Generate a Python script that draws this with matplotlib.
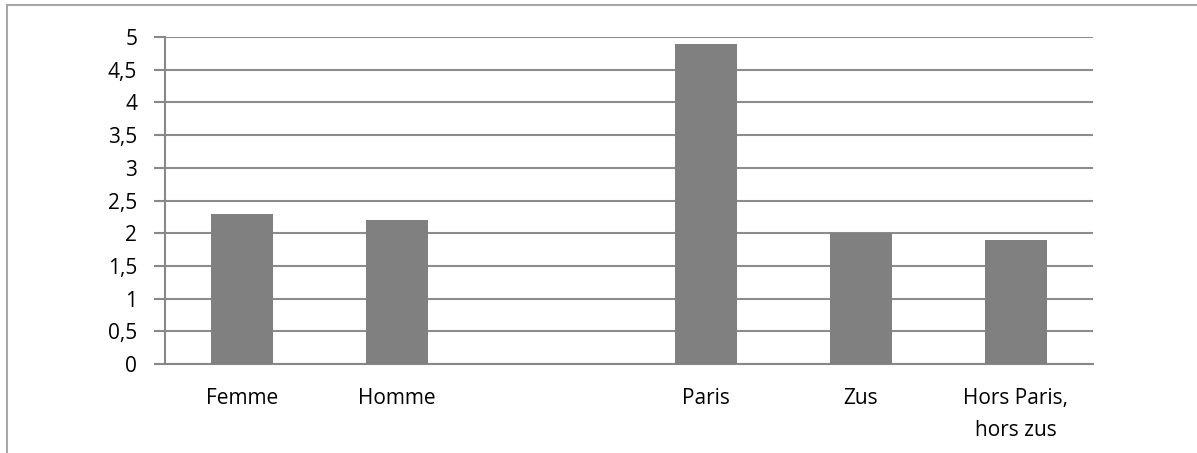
import matplotlib.pyplot as plt
from matplotlib.patches import Rectangle

# data
categories = ['Femme', 'Homme', '', 'Paris', 'Zus', 'Hors Paris,\nhors zus']
values = [2.3, 2.2, None, 4.9, 2.0, 1.9]
yticks = [0, 0.5, 1, 1.5, 2, 2.5, 3, 3.5, 4, 4.5, 5]
ytick_labels = ['0', '0,5', '1', '1,5', '2', '2,5', '3', '3,5', '4', '4,5', '5']

plt.rcParams['font.family'] = ['Open Sans', 'DejaVu Sans']

W, H = 1197, 453
fig = plt.figure(figsize=(W/100, H/100), dpi=100)

# outer chart frame (cut off on the right and bottom)
fig.patches.append(Rectangle((7/W, -0.1), 1.2, 1 - 4.5/H + 0.1, transform=fig.transFigure,
                             fill=False, edgecolor='#a6a6a6', linewidth=1.5))

ax = fig.add_axes([165/W, 1 - 364/H, (1093-165)/W, (364-37)/H])

x = list(range(len(categories)))
xs = [i for i, v in zip(x, values) if v is not None]
vs = [v for v in values if v is not None]
ax.bar(xs, vs, width=0.4, color='#808080', zorder=3)

ax.set_xlim(-0.5, len(categories) - 0.5)
ax.set_ylim(0, 5)
ax.set_yticks(yticks)
ax.set_yticklabels(ytick_labels, fontsize=15)
ax.set_xticks(x)
ax.set_xticklabels(categories, fontsize=15, linespacing=1.7)
ax.tick_params(axis='x', length=0, pad=17)
ax.tick_params(axis='y', length=8, width=1.5, color='#888888', pad=12)

ax.grid(axis='y', color='#8c8c8c', linewidth=1.5, zorder=0)
for s in ['top', 'right']:
    ax.spines[s].set_visible(False)
ax.spines['left'].set_color('#888888')
ax.spines['left'].set_linewidth(1.5)
ax.spines['bottom'].set_color('#888888')
ax.spines['bottom'].set_linewidth(1.5)

fig.savefig('out.png', dpi=100)
